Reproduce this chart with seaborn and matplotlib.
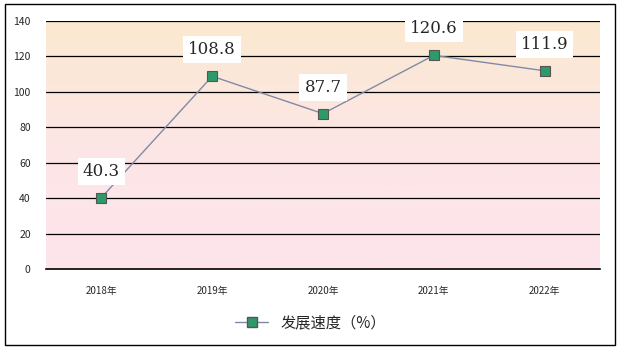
import seaborn as sns
import pandas as pd
import numpy as np
import matplotlib.pyplot as plt
from matplotlib.colors import LinearSegmentedColormap
from matplotlib.patches import Rectangle
from matplotlib.lines import Line2D

years = ['2018年', '2019年', '2020年', '2021年', '2022年']
speed = [40.3, 108.8, 87.7, 120.6, 111.9]
yticks = [0, 20, 40, 60, 80, 100, 120, 140]
series_name = '发展速度（%）'

sns.set_style('white')
plt.rcParams['font.family'] = ['Noto Sans CJK SC', 'DejaVu Sans']
plt.rcParams['font.size'] = 7

df = pd.DataFrame({'pos': np.arange(len(years)), 'speed': speed})

fig = plt.figure(figsize=(6.21, 3.52), dpi=100)
ax = fig.add_axes([46/621, 1-269/352, 554/621, 248/352])

# gradient background
cmap = LinearSegmentedColormap.from_list('bg', ['#fde4ec', '#fde6e6', '#fbe9d0'])
grad = np.linspace(0, 1, 256).reshape(-1, 1)
ax.imshow(grad, cmap=cmap, aspect='auto', origin='lower',
          extent=[-0.5, 4.5, 0, 140], zorder=0)

for y in yticks[1:]:
    ax.axhline(y, color='black', lw=0.9, zorder=1)

sns.lineplot(data=df, x='pos', y='speed', ax=ax, color='#7f8aa6', lw=1,
             marker='s', markersize=7, markerfacecolor='#2e9a6a',
             markeredgecolor='#555555', markeredgewidth=0.8, zorder=3)

for x, v in zip(df['pos'], df['speed']):
    ax.annotate(f'{v}', (x, v), xytext=(0, 19), textcoords='offset points',
                ha='center', va='center', fontsize=12, family='DejaVu Serif',
                bbox=dict(boxstyle='square,pad=0.3', fc='white', ec='none'),
                zorder=4)

ax.set_xlim(-0.5, 4.5)
ax.set_ylim(0, 140)
ax.set_yticks(yticks)
ax.set_xticks(range(len(years)))
ax.set_xticklabels(years)
ax.set_xticks(np.arange(-0.5, 4.6, 1), minor=True)
ax.tick_params(axis='x', which='major', length=0, pad=12)
ax.tick_params(axis='x', which='minor', direction='in', length=5, color='black', width=0.9)
ax.tick_params(axis='y', length=0, pad=11, labelsize=7.5)
ax.set_xlabel('')
ax.set_ylabel('')
for s in ['left', 'right', 'top']:
    ax.spines[s].set_visible(False)
ax.spines['bottom'].set_color('black')
ax.spines['bottom'].set_linewidth(1.2)

handle = Line2D([], [], color='#7f8aa6', lw=1, marker='s', markersize=7,
                markerfacecolor='#2e9a6a', markeredgecolor='#555555')
fig.legend([handle], [series_name], loc='center', bbox_to_anchor=(0.5, 1-323/352),
           frameon=False, fontsize=11, handlelength=2.2)

fig.patches.append(Rectangle((5/621, 1-345/352), 610/621, 341/352,
                             transform=fig.transFigure, fill=False,
                             ec='black', lw=1))

fig.savefig('out.png', dpi=100)
